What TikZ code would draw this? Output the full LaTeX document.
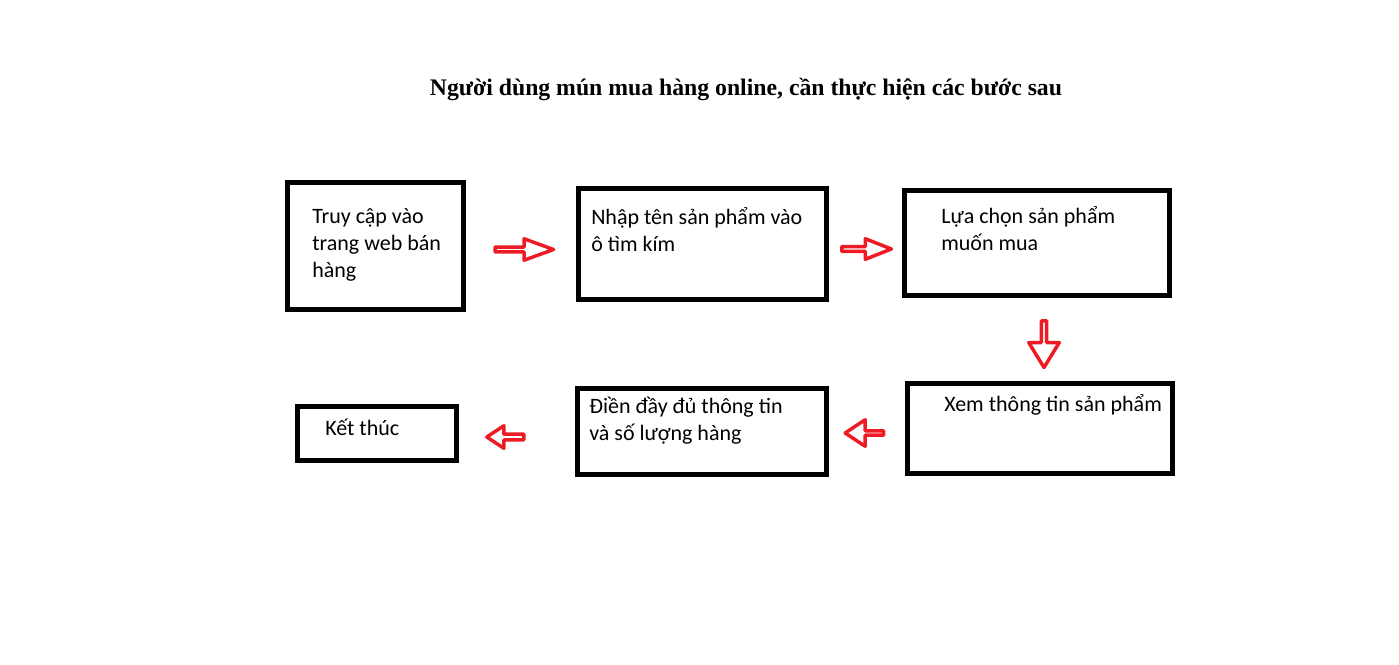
\documentclass[tikz,border=0pt]{standalone}
\usepackage{fontspec}
\setmainfont{Carlito}
\newfontfamily\titlefont{Liberation Serif}
\usepackage{tikz}
\usetikzlibrary{shapes.arrows}
\definecolor{paintred}{RGB}{237,28,36}

\begin{document}
\begin{tikzpicture}[x=0.75pt,y=-0.75pt,
    box/.style={draw, rectangle, line width=3.75pt, inner sep=0pt, outer sep=0pt},
    lbl/.style={anchor=north west, inner sep=0pt, align=left,
        font=\fontsize{16.5}{20.25}\selectfont},
    blockarrow/.style={single arrow, draw=paintred, fill=white, line width=2.6pt,
        line join=round, inner sep=0pt, outer sep=0pt}]
    % Khung va tieu de
    \fill[white] (0,0) rectangle (1399,664);
    \useasboundingbox (0,0) rectangle (1399,664);
    \node[anchor=base, font=\titlefont\bfseries\fontsize{17.8}{22}\selectfont] (title) at (746,95.5)
        {Người dùng mún mua hàng online, cần thực hiện các bước sau};

    % Cac buoc
    \node[box, minimum width=132pt, minimum height=95.25pt] (truycap) at (375.5,246) {};
    \node[box, minimum width=186pt, minimum height=83.25pt] (nhapten) at (702.5,244) {};
    \node[box, minimum width=198.75pt, minimum height=78.75pt] (luachon) at (1037,243) {};
    \node[box, minimum width=198.75pt, minimum height=67.5pt] (xemtt) at (1040,428.5) {};
    \node[box, minimum width=186.75pt, minimum height=64.5pt] (dienday) at (702,431.5) {};
    \node[box, minimum width=119.25pt, minimum height=40.5pt] (ketthuc) at (377,433.5) {};

    \node[lbl] (truycap-t) at (312,199) {\rule{0pt}{18pt}Truy cập vào\\trang web bán\\hàng};
    \node[lbl] (nhapten-t) at (591,200) {\rule{0pt}{18pt}Nhập tên sản phẩm vào\\ô tìm kím};
    \node[lbl] (luachon-t) at (941,199) {\rule{0pt}{18pt}Lựa chọn sản phẩm\\muốn mua};
    \node[lbl] (xemtt-t) at (944,387) {\rule{0pt}{18pt}Xem thông tin sản phẩm};
    \node[lbl] (dienday-t) at (589,389) {\rule{0pt}{18pt}Điền đầy đủ thông tin\\và số lượng hàng};
    \node[lbl] (ketthuc-t) at (325,411) {\rule{0pt}{18pt}Kết thúc};

    % Mui ten do
    \node[blockarrow, minimum height=43.9pt, minimum width=16.1pt,
        single arrow head extend=4.5pt, single arrow tip angle=40] (mt1) at (521,249.5) {};
    \node[blockarrow, minimum height=37.1pt, minimum width=15.4pt,
        single arrow head extend=4.1pt, single arrow tip angle=43] (mt2) at (863.5,249) {};
    \node[blockarrow, minimum height=34.9pt, minimum width=22.9pt,
        single arrow head extend=6pt, single arrow tip angle=63, shape border rotate=270] (mt3) at (1044,342) {};
    \node[blockarrow, minimum height=28.9pt, minimum width=19.9pt,
        single arrow head extend=6.75pt, single arrow tip angle=67, shape border rotate=180] (mt4) at (866,433) {};
    \node[blockarrow, minimum height=27.75pt, minimum width=16.9pt,
        single arrow head extend=3.75pt, single arrow tip angle=67, shape border rotate=180] (mt5) at (507.5,437) {};
\end{tikzpicture}
\end{document}
